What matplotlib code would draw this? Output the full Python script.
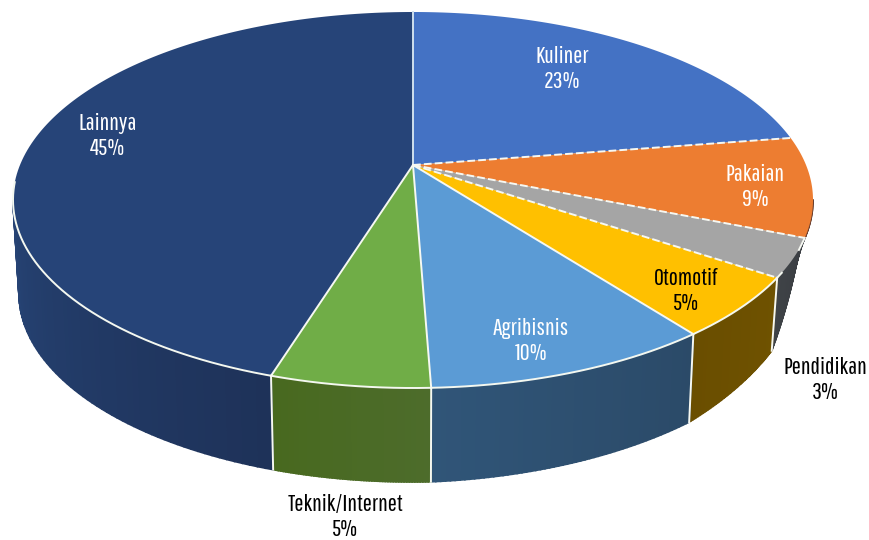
import matplotlib
matplotlib.use("Agg")
import matplotlib.pyplot as plt
from matplotlib.colors import to_rgb
import numpy as np

# clockwise from 12 o'clock
labels = ["Kuliner", "Pakaian", "Pendidikan", "Otomotif", "Agribisnis", "Teknik/Internet", "Lainnya"]
values = [22.55, 8.55, 3.3, 5.2, 9.8, 5.4, 45.2]

top_colors = ["#4472c4", "#ed7d31", "#a5a5a5", "#ffc000", "#5b9bd5", "#70ad47", "#264478"]
side_from = ["#2c4a80", "#6a4030", "#3a3d42", "#6f5200", "#2b4a68", "#4d6c2b", "#1e3259"]
side_to = ["#2c4a80", "#6a4030", "#3f4347", "#6a4e00", "#305578", "#48691f", "#264374"]
text_colors = ["white", "white", "black", "black", "white", "black", "white"]
label_pos = [(562, 69), (755, 187), (825, 380), (686, 291), (531, 341), (345, 517), (108, 136)]

# pie geometry in pixels
cx, cy, rx, ry = 413, 200, 400, 188
apex = -35
shrink = 0.985
# the side gets shallower towards the right
depth_at = [28, 31.1, 34.4, 39.6, 49.4, 100]
depth_px = [0, 12, 73, 88, 94, 93]
c = apex / ry
d = rx * np.sqrt(1 - c ** 2)


def project(pct):
    # percent around the pie to a point on the tilted disc
    t = np.radians(np.asarray(pct, dtype=float) * 3.6)
    u, v = np.sin(t), -np.cos(t)
    w = 1 + c * v
    return cx + d * u / w, cy + ry * (v + c) / w


def project_low(pct):
    x, y = project(pct)
    return cx + (x - cx) * shrink, y + np.interp(pct, depth_at, depth_px)


plt.rcParams["font.family"] = ["Pathway Gothic One", "Roboto Condensed", "Liberation Sans Narrow", "Roboto", "DejaVu Sans"]
fig = plt.figure(figsize=(8.69, 5.4), dpi=100)
ax = fig.add_axes([0, 0, 1, 1])
ax.set_xlim(0, 869)
ax.set_ylim(540, 0)
ax.axis("off")

edges = np.concatenate([[0], np.cumsum(values)])
side_start = np.degrees(np.arccos(apex / ry)) / 3.6
side_end = 100 - side_start

# sides, back slices first
for i in range(len(values)):
    a = max(edges[i], side_start)
    b = min(edges[i + 1], side_end)
    if b <= a:
        continue
    steps = np.linspace(a, b, 61)
    c0, c1 = np.array(to_rgb(side_from[i])), np.array(to_rgb(side_to[i]))
    for k in range(60):
        p = steps[k:k + 2]
        x1, y1 = project(p)
        x2, y2 = project_low(p[::-1])
        col = c0 + (c1 - c0) * k / 59
        ax.fill(np.r_[x1, x2], np.r_[y1, y2], color=col, lw=1.2, zorder=2)

# top of the pie
for i in range(len(values)):
    p = np.linspace(edges[i], edges[i + 1], 150)
    x, y = project(p)
    ax.fill(np.r_[cx, x], np.r_[cy + apex, y], color=top_colors[i], lw=0, zorder=3)

# rim along the front
p = np.linspace(side_start + 6, side_end + 1.5, 300)
x, y = project(p)
ax.plot(x, y, color="#f4f8f0", lw=1.4, zorder=4)

# white lines between the slices
for i, e in enumerate(edges[:-1]):
    x, y = project(e)
    style = (0, (4, 1.6)) if i in (1, 2, 3) else "-"
    col = "#cfe0ee" if i == 0 else "#f6f8f2"
    ax.plot([cx, x], [cy + apex, y], color=col, lw=1.4, ls=style, zorder=5)
    if side_start < e < side_end:
        xl, yl = project_low(e)
        ax.plot([x, xl], [y, yl], color="#f6f8f2", lw=1.4, zorder=4)

for name, val, col, pos in zip(labels, values, text_colors, label_pos):
    ax.text(pos[0], pos[1], f"{name}\n{round(val)}%", color=col, fontsize=17.5,
            ha="center", va="center", linespacing=1.25, zorder=6)

fig.savefig("out.png", dpi=100)
